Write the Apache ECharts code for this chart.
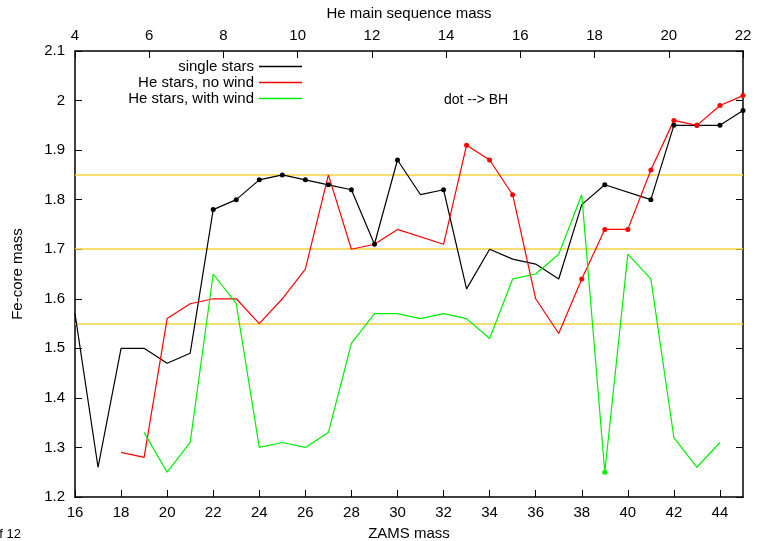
<!DOCTYPE html>
<html>
<head>
<meta charset="utf-8">
<script src="https://cdn.jsdelivr.net/npm/echarts@6/dist/echarts.min.js"></script>
<style>
  html, body { margin: 0; padding: 0; background: #fff; }
  #chart { width: 757px; height: 541px; }
</style>
</head>
<body>
<div id="chart"></div>
<script>
'use strict';
/* Fe-core mass vs ZAMS mass */

var zamsMass = [16, 17, 18, 19, 20, 21, 22, 23, 24, 25, 26, 27, 28, 29, 30,
  31, 32, 33, 34, 35, 36, 37, 38, 39, 40, 41, 42, 43, 44, 45];
var singleStars = [1.57, 1.26, 1.50, 1.50, 1.47, 1.49, 1.78, 1.80, 1.84, 1.85, 1.84, 1.83, 1.82, 1.71, 1.88,
  1.81, 1.82, 1.62, 1.70, 1.68, 1.67, 1.64, 1.79, 1.83, null, 1.80, 1.95, 1.95, 1.95, 1.98];
var heNoWind = [null, null, 1.29, 1.28, 1.56, 1.59, 1.60, 1.60, 1.55, 1.60, 1.66, 1.85, 1.70, 1.71, 1.74,
  null, 1.71, 1.91, 1.88, 1.81, 1.60, 1.53, 1.64, 1.74, 1.74, 1.86, 1.96, 1.95, 1.99, 2.01];
var heWithWind = [null, null, null, 1.33, 1.25, 1.31, 1.65, 1.59, 1.30, 1.31, 1.30, 1.33, 1.51, 1.57, 1.57,
  1.56, 1.57, 1.56, 1.52, 1.64, 1.65, 1.69, 1.81, 1.25, 1.69, 1.64, 1.32, 1.26, 1.31, null];
// masses that end as black hole (drawn with a dot)
var singleBH = [22, 23, 24, 25, 26, 27, 28, 29, 30, 32, 39, 41, 42, 43, 44, 45];
var noWindBH = [33, 34, 35, 38, 39, 40, 41, 42, 43, 44, 45];
var withWindBH = [39];
var refLevels = [1.55, 1.70, 1.85];
var seriesNames = ['single stars', 'He stars, no wind', 'He stars, with wind'];
var seriesColors = ['#000000', '#ff0000', '#00ee00'];

var FONT = 'Liberation Sans';

function buildData(values, dots) {
  var out = [];
  for (var i = 0; i < zamsMass.length; i++) {
    if (values[i] === null) continue;
    var isDot = dots.indexOf(zamsMass[i]) >= 0;
    out.push({ value: [zamsMass[i], values[i]], symbol: isDot ? 'circle' : 'none', symbolSize: 5 });
  }
  return out;
}

function lineSeries(idx, values, dots) {
  return {
    name: seriesNames[idx],
    type: 'line',
    xAxisIndex: 0,
    yAxisIndex: 0,
    data: buildData(values, dots),
    showSymbol: true,
    color: seriesColors[idx],
    lineStyle: { width: 1.2, color: seriesColors[idx] },
    itemStyle: { color: seriesColors[idx] },
    animation: false,
    z: 3
  };
}

var chart = echarts.init(document.getElementById('chart'));

var blackSeries = lineSeries(0, singleStars, singleBH);
var redSeries = lineSeries(1, heNoWind, noWindBH);
var greenSeries = lineSeries(2, heWithWind, withWindBH);

blackSeries.markLine = {
  silent: true,
  symbol: 'none',
  label: { show: false },
  lineStyle: { color: '#f5d33c', width: 1.5, type: 'solid' },
  data: refLevels.map(function(v) { return { yAxis: v }; }),
  z: 1
};

var tickStyle = { inside: true, length: 7, lineStyle: { color: '#000', width: 1 } };
var axisLine = { show: true, onZero: false, lineStyle: { color: '#000', width: 1.5 } };
var labelStyle = { color: '#000', fontFamily: FONT, fontSize: 15 };

var option = {
  backgroundColor: '#fff',
  animation: false,
  grid: { left: 75, right: 14, top: 51, bottom: 44, outerBoundsMode: 'none', containLabel: false },
  legend: {
    data: seriesNames.map(function(n) { return { name: n, icon: 'rect' }; }),
    orient: 'vertical',
    align: 'right',
    right: 450,
    top: 54,
    itemWidth: 43,
    itemHeight: 1.5,
    itemGap: 1,
    textStyle: { color: '#000', fontFamily: FONT, fontSize: 15, lineHeight: 15, padding: [0, 0, 0, 0] },
    selectedMode: false
  },
  xAxis: [{
    type: 'value',
    position: 'bottom',
    min: 16,
    max: 45,
    interval: 2,
    name: 'ZAMS mass',
    nameLocation: 'middle',
    nameGap: 29,
    nameTextStyle: labelStyle,
    axisLine: axisLine,
    axisTick: tickStyle,
    axisLabel: Object.assign({ margin: 8, showMaxLabel: false }, labelStyle),
    splitLine: { show: false }
  }, {
    type: 'value',
    position: 'top',
    min: 4,
    max: 22,
    interval: 2,
    name: 'He main sequence mass',
    nameLocation: 'middle',
    nameGap: 30,
    nameTextStyle: labelStyle,
    axisLine: axisLine,
    axisTick: tickStyle,
    axisLabel: Object.assign({ margin: 8 }, labelStyle),
    splitLine: { show: false }
  }],
  yAxis: [{
    type: 'value',
    position: 'left',
    min: 1.2,
    max: 2.1,
    interval: 0.1,
    name: 'Fe-core mass',
    nameLocation: 'middle',
    nameGap: 50,
    nameTextStyle: labelStyle,
    axisLine: axisLine,
    axisTick: tickStyle,
    axisLabel: Object.assign({ margin: 10 }, labelStyle),
    splitLine: { show: false }
  }, {
    type: 'value',
    position: 'right',
    min: 1.2,
    max: 2.1,
    interval: 0.1,
    axisLine: axisLine,
    axisTick: tickStyle,
    axisLabel: { show: false },
    splitLine: { show: false }
  }],
  graphic: [{
    type: 'text',
    left: 444,
    top: 93,
    style: { text: 'dot --> BH', fill: '#000', font: '14px "' + FONT + '"' }
  }, {
    type: 'text',
    left: -8,
    top: 528,
    style: { text: 'of 12', fill: '#000', font: '13px "' + FONT + '"' }
  }],
  series: [blackSeries, redSeries, greenSeries]
};

chart.setOption(option);
</script>
</body>
</html>
